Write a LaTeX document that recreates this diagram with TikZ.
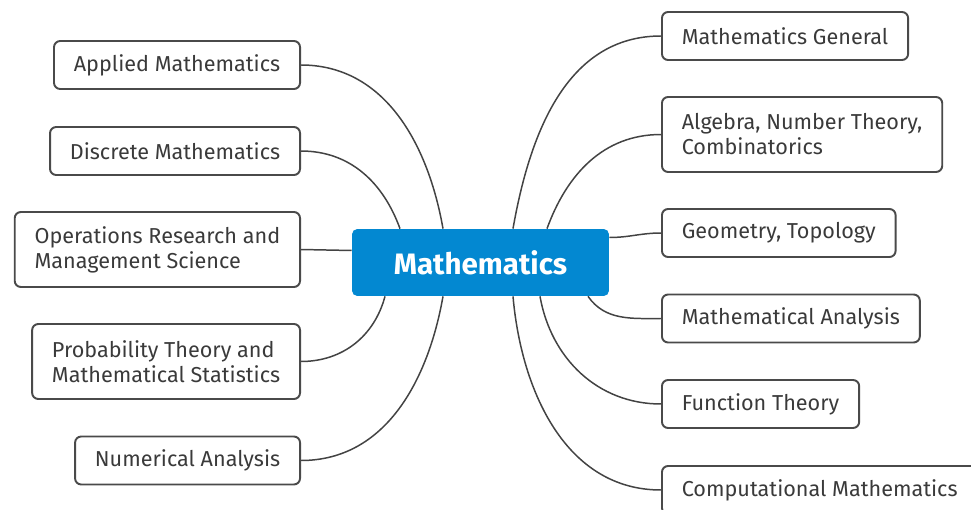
\documentclass[tikz,border=0pt]{standalone}
\usepackage{fontspec}
\setmainfont{Fira Sans}
\usepackage{xcolor}
\usetikzlibrary{calc}
\definecolor{mainblue}{HTML}{0388D1}
\definecolor{boxgray}{HTML}{4A4A4A}
\definecolor{txtgray}{HTML}{3A3A3A}

\begin{document}
\begin{tikzpicture}[x=0.02cm,y=-0.02cm,
  topic/.style={draw=boxgray,line width=1.1pt,rounded corners=3.5pt,text=txtgray,
    font=\fontsize{12.3}{14.2}\selectfont,inner xsep=11.3pt,inner ysep=2pt,
    minimum height=0.96cm,align=left},
  twoline/.style={topic,minimum height=1.5cm},
  branch/.style={draw=boxgray!90!black,line width=0.85pt}]
  \useasboundingbox (0,0) rectangle (971,510);
  \node[fill=mainblue,rounded corners=3pt,minimum width=5.14cm,minimum height=1.34cm,
    text=white,font=\fontsize{16.8}{20}\selectfont\bfseries] (math) at (480.5,262.5) {Mathematics};
  \node[topic,anchor=east] (appl) at (301,65) {Applied Mathematics};
  \node[topic,anchor=east] (disc) at (301,151) {Discrete Mathematics};
  \node[twoline,anchor=east] (oper) at (301,249.5) {Operations Research and\\Management Science};
  \node[twoline,anchor=east] (prob) at (301,361.5) {Probability Theory and\\Mathematical Statistics};
  \node[topic,anchor=east] (nume) at (301,460.5) {Numerical Analysis};
  \node[topic,anchor=west] (genl) at (661,36) {Mathematics General};
  \node[twoline,anchor=west] (alge) at (661,134.5) {Algebra, Number Theory,\\Combinatorics};
  \node[topic,anchor=west] (geom) at (661,233) {Geometry, Topology};
  \node[topic,anchor=west] (anal) at (661,318.5) {Mathematical Analysis};
  \node[topic,anchor=west] (func) at (661,404) {Function Theory};
  \node[topic,anchor=west] (comp) at (661,490) {Computational Mathematics};
  \coordinate (t1) at ($(math.north)+(-80.5,0)$); \coordinate (t2) at ($(math.north)+(-37.5,0)$);
  \coordinate (t3) at ($(math.north)+(32.5,0)$); \coordinate (t4) at ($(math.north)+(66.5,0)$);
  \coordinate (b1) at ($(math.south)+(-95.5,0)$); \coordinate (b2) at ($(math.south)+(-37.5,0)$);
  \coordinate (b3) at ($(math.south)+(32.5,0)$); \coordinate (b4) at ($(math.south)+(59.5,0)$);
  \coordinate (b5) at ($(math.south)+(107.5,0)$);
  \coordinate (w1) at ($(math.west)+(0,-12)$); \coordinate (e1) at ($(math.east)+(0,-25)$);
  \draw[branch] (appl.east) to[out=0,in=100] (t2);
  \draw[branch] (disc.east) to[out=0,in=110] (t1);
  \draw[branch] (oper.east) -- (w1);
  \draw[branch] (prob.east) to[out=0,in=-105] (b1);
  \draw[branch] (nume.east) to[out=0,in=-100] (b2);
  \draw[branch] (genl.west) to[out=180,in=80] (t3);
  \draw[branch] (alge.west) to[out=180,in=70] (t4);
  \draw[branch] (geom.west) to[out=180,in=0] (e1);
  \draw[branch] (anal.west) to[out=180,in=-55] (b5);
  \draw[branch] (func.west) to[out=180,in=-80] (b4);
  \draw[branch] (comp.west) to[out=180,in=-85] (b3);
\end{tikzpicture}
\end{document}
